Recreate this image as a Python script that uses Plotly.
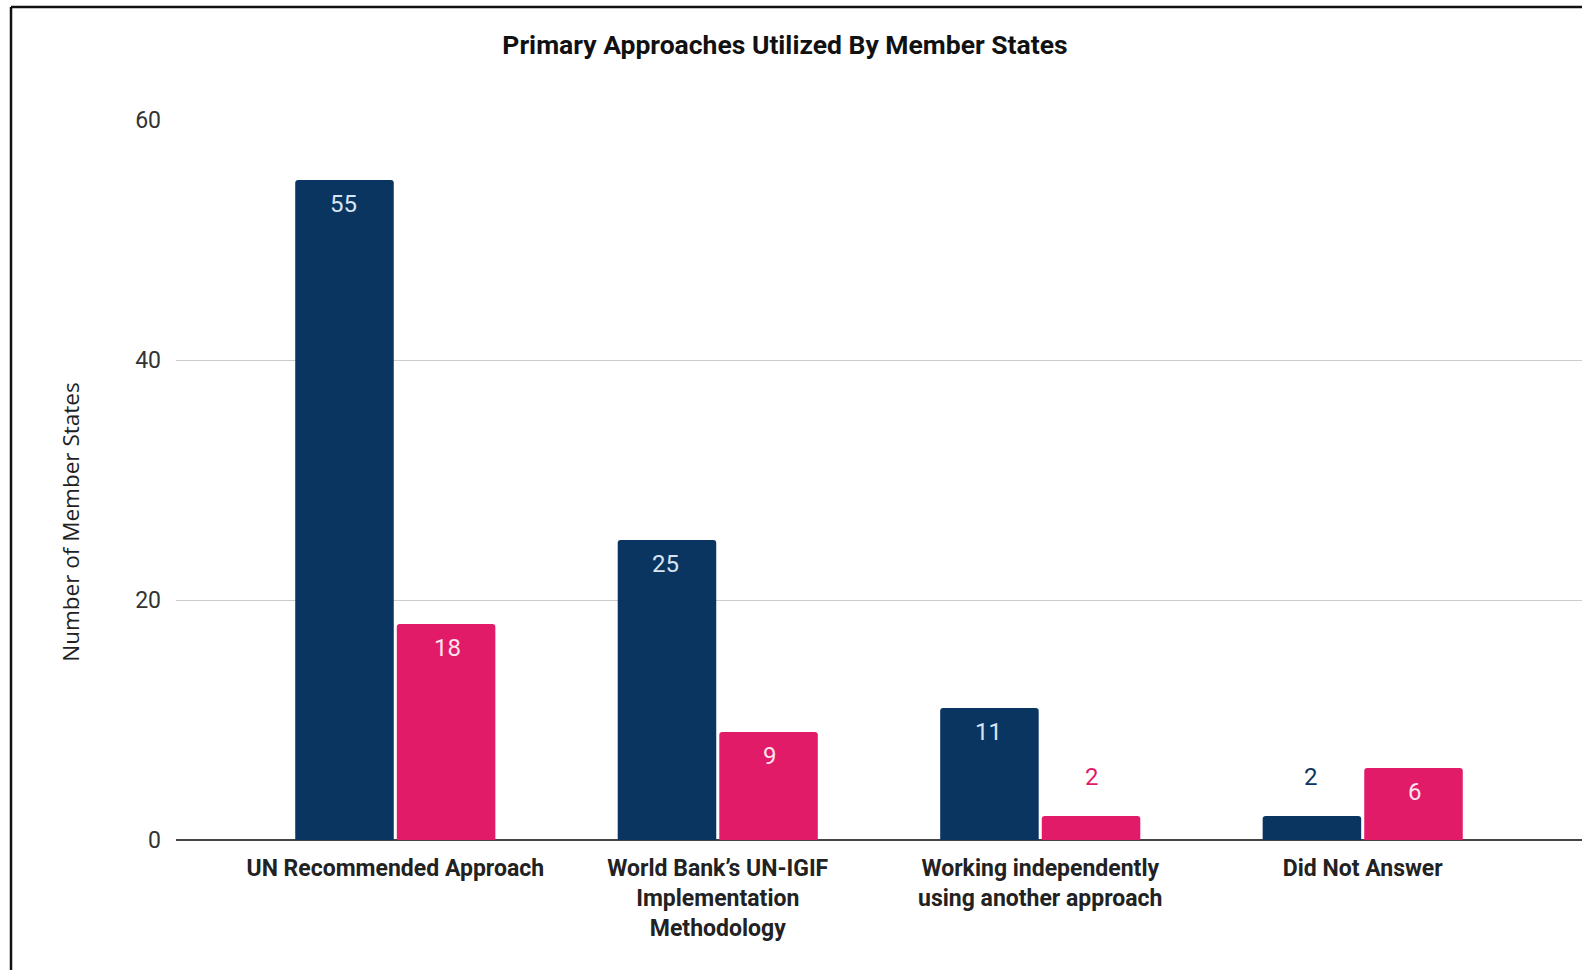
import plotly.graph_objects as go

categories = [
    "UN Recommended Approach",
    "World Bank’s UN-IGIF<br>Implementation<br>Methodology",
    "Working independently<br>using another approach",
    "Did Not Answer",
]
series_a = [55, 25, 11, 2]
series_b = [18, 9, 2, 6]
y_ticks = [0, 20, 40, 60]

BLUE = "#0b3561"
PINK = "#e21b68"
W, H = 1582, 970
L, R, T, B = 176, 0, 120, 129.5
pw, ph = W - L - R, H - T - B

INSIDE_MIN = 5
FONT = "Roboto"
LABEL_SIZE = 24

fig = go.Figure()
for vals, col in [(series_a, BLUE), (series_b, PINK)]:
    fig.add_trace(go.Bar(
        x=categories, y=vals, marker=dict(color=col, line=dict(width=0)),
        showlegend=False, hoverinfo="x+y",
    ))

half = 52
annos = []
for vals, col, incol, sgn in [(series_a, BLUE, "#d6e4f3", -1), (series_b, PINK, "#fde3ec", 1)]:
    for c, v in zip(categories, vals):
        inside = v >= INSIDE_MIN
        annos.append(dict(x=c, y=v, xref="x", yref="y", text=str(v), showarrow=False,
                          xshift=sgn * half, yshift=(-24 if inside else 39),
                          yanchor="middle",
                          font=dict(family=FONT, size=LABEL_SIZE, color=(incol if inside else col))))

annos.append(dict(text="Number of Member States", xref="paper", yref="paper",
                  x=(71 - L) / pw, y=(H - B - 522) / ph, textangle=-90, showarrow=False,
                  xanchor="center", yanchor="middle",
                  font=dict(family="Open Sans", size=22.5, color="#222")))

fig.update_layout(
    width=W, height=H,
    margin=dict(l=L, r=R, t=T, b=B, autoexpand=False),
    paper_bgcolor="white", plot_bgcolor="white",
    barmode="group", bargap=0.37, bargroupgap=0.03, barcornerradius=3,
    title=dict(text="<b>Primary Approaches Utilized By Member States</b>",
               x=785 / W, xref="container", xanchor="center",
               y=1 - 45 / H, yref="container", yanchor="middle",
               font=dict(family=FONT, size=26.5, color="#111")),
    xaxis=dict(range=[-0.68, 3.68], showgrid=False, showline=False, zeroline=False,
               ticks="", tickfont=dict(family=FONT, size=23, color="#222", weight="bold"),
               ticklabelstandoff=12),
    yaxis=dict(range=[0, 60], tickvals=y_ticks, showgrid=True, gridcolor="#cccccc",
               gridwidth=1, zeroline=True, zerolinecolor="#444", zerolinewidth=2,
               showline=False, ticks="", ticklabelstandoff=14,
               tickfont=dict(family=FONT, size=23, color="#333")),
    annotations=annos,
    shapes=[
        dict(type="line", xref="paper", yref="paper",
             x0=(11 - L) / pw, x1=(11 - L) / pw, y0=(H - B - 7) / ph, y1=(H - B - H - 5) / ph,
             line=dict(color="#111", width=2.5)),
        dict(type="line", xref="paper", yref="paper",
             x0=(11 - L) / pw, x1=(W + 5 - L) / pw, y0=(H - B - 7) / ph, y1=(H - B - 7) / ph,
             line=dict(color="#111", width=2.5)),
    ],
    font=dict(family=FONT),
)
fig.write_html("out.html", config={"displayModeBar": False},
               post_script="document.body.style.margin='0';")
